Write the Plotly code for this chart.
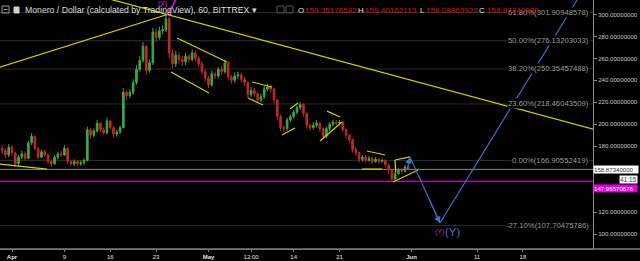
import plotly.graph_objects as go
import pandas as pd

# ---------------- data ----------------
BASE = pd.Timestamp("2018-04-01")
CANDLE_START = "2018-03-30 12:00"
OPEN0 = 178
closes = [176, 172, 179, 174, 164, 170, 173, 169, 183, 189, 178, 170, 175, 172, 166, 164, 170, 173, 172, 178,
          166, 164, 166, 164, 165, 167, 195, 190, 194, 201, 195, 192, 203, 197, 191, 193, 197, 229, 226, 229,
          238, 250, 258, 271, 249, 256, 284, 279, 285, 286, 296, 265, 255, 263, 259, 257, 262, 259, 265, 260,
          255, 248, 242, 236, 246, 244, 250, 248, 256, 243, 240, 244, 245, 241, 238, 227, 231, 228, 222, 225,
          232, 234, 232, 222, 207, 197, 196, 204, 207, 211, 215, 218, 210, 199, 197, 199, 201, 196, 189, 196,
          200, 202, 201, 202, 195, 190, 186, 177, 174, 168, 170, 167, 169, 166, 168, 166, 167, 163, 158, 150,
          155, 158, 157, 161, 158.8734]
highs = [181, 178, 182, 181, 175, 172, 176, 175, 185, 192, 190, 179, 177, 177, 173, 168, 172, 175, 176, 181,
         179, 167, 168, 167, 167, 169, 198, 197, 196, 204, 202, 197, 206, 204, 198, 195, 199, 233, 231, 232,
         241, 254, 262, 275, 272, 259, 288, 287, 289, 290, 301, 298, 268, 267, 265, 262, 265, 264, 268, 267,
         262, 257, 250, 244, 249, 248, 252, 253, 259, 258, 245, 247, 248, 247, 243, 239, 234, 233, 229, 228,
         235, 237, 236, 233, 223, 209, 199, 206, 209, 213, 217, 220, 219, 211, 201, 202, 204, 202, 197, 198,
         202, 204, 204, 204, 203, 196, 191, 187, 179, 175, 172, 172, 171, 170, 170, 169, 169, 168, 164, 159,
         157, 160, 160, 163, 162]
lows = [173, 169, 170, 171, 161, 162, 168, 167, 168, 181, 176, 168, 169, 170, 164, 161, 163, 168, 170, 171,
        164, 162, 162, 162, 162, 163, 166, 187, 188, 192, 193, 190, 191, 195, 188, 189, 191, 196, 222, 224,
        227, 236, 248, 256, 245, 247, 254, 275, 277, 282, 284, 260, 251, 252, 255, 253, 254, 256, 257, 257,
        252, 245, 239, 233, 234, 241, 242, 245, 246, 240, 237, 238, 241, 238, 235, 224, 225, 225, 219, 220,
        223, 230, 229, 219, 204, 194, 193, 194, 202, 205, 209, 213, 207, 196, 194, 195, 197, 193, 186, 187,
        194, 198, 199, 199, 193, 187, 183, 174, 171, 165, 166, 165, 166, 164, 165, 164, 165, 161, 155, 148,
        149, 154, 155, 156, 158]

fib_pct = ["61.80%", "50.00%", "38.20%", "23.60%", "0.00%", "-27.10%"]
fib_val = [301.90948578, 276.13203033, 250.35457488, 218.46043509, 166.90552419, 107.70475786]

xtick_days = [0, 8, 15, 22, 30, 36.5, 43, 50, 61, 71, 78]
xtick_text = ["<b>Apr</b>", "9", "16", "23", "<b>May</b>", "12:00", "14", "21", "<b>Jun</b>", "11", "18"]
ytick_vals = [100, 120, 180, 200, 220, 240, 260, 280, 300]

LAST_PRICE = 158.8734
ALERT_PRICE = 147.96570676
COUNTDOWN = "41:15"
ohlc_labels = ["O", "H", "L", "C"]
ohlc_values = ["159.35176582", "159.46162113", "158.08869923", "158.87340000"]

# drawings: (day offsets from BASE, prices)
yellow_days = [[-2.0, 23.7], [14.0, 89.5], [-1.83, 5.34], [25.19, 32.82], [24.27, 30.08],
               [36.64, 39.69], [36.03, 38.32], [41.22, 43.21], [42.44, 43.66], [48.09, 50.08],
               [47.02, 50.38], [54.2, 56.95], [53.44, 56.49], [58.47, 60.76], [58.17, 61.98],
               [58.47, 58.6]]
yellow_prices = [[251.8, 300.0], [315.5, 194.3], [163.7, 159.2], [278.6, 256.7], [247.6, 228.5],
                 [238.5, 233.9], [223.9, 217.5], [190.2, 196.6], [213.9, 219.4], [212.0, 206.6],
                 [184.7, 202.0], [175.6, 172.0], [159.2, 159.2], [167.4, 170.2], [147.4, 158.3],
                 [167.4, 156.0]]
magenta_days = [23.7, 25.5]
magenta_prices = [300.0, 318.0]
blue_days = [60.3, 60.76, 65.34, 87.0]
blue_prices = [158.3, 170.2, 110.0, 320.3]

X_RANGE_DAYS = [-1.832, 88.70]
Y_RANGE = [86.33, 313.21]

# ---------------- figure ----------------
def d2t(d):
    return BASE + pd.Timedelta(days=d)

def d2s(d):
    return d2t(d).strftime("%Y-%m-%d %H:%M:%S")

times = pd.date_range(CANDLE_START, periods=len(closes), freq="12h")
opens = [OPEN0] + closes[:-1]

YELLOW = "#d2d200"
BLUE = "#3f72d0"
MAG = "#e000e0"
FONT = "Liberation Sans, Arial, sans-serif"

fig = go.Figure()
fig.add_trace(go.Candlestick(
    x=times, open=opens, high=highs, low=lows, close=closes,
    increasing=dict(line=dict(color="#3fa83f", width=1), fillcolor="#3fa83f"),
    decreasing=dict(line=dict(color="#c02828", width=1), fillcolor="#c02828"),
    whiskerwidth=0, showlegend=False, hoverinfo="skip"))

for dd, pp in zip(yellow_days, yellow_prices):
    fig.add_trace(go.Scatter(x=[d2t(v) for v in dd], y=pp, mode="lines",
                             line=dict(color=YELLOW, width=1.2), showlegend=False, hoverinfo="skip"))
fig.add_trace(go.Scatter(x=[d2t(v) for v in magenta_days], y=magenta_prices, mode="lines",
                         line=dict(color=MAG, width=1.5), showlegend=False, hoverinfo="skip"))
fig.add_trace(go.Scatter(x=[d2t(v) for v in blue_days], y=blue_prices, mode="lines",
                         line=dict(color=BLUE, width=1.1), showlegend=False, hoverinfo="skip"))

shapes = []
for v in fib_val:
    shapes.append(dict(type="line", xref="paper", x0=0, x1=1, yref="y", y0=v, y1=v,
                       line=dict(color="#2c2c2c", width=1), layer="below"))
shapes.append(dict(type="line", xref="paper", x0=0, x1=1, yref="y", y0=LAST_PRICE, y1=LAST_PRICE,
                   line=dict(color="#8a8a8a", width=1), layer="below"))
shapes.append(dict(type="line", xref="paper", x0=0, x1=1, yref="y", y0=ALERT_PRICE, y1=ALERT_PRICE,
                   line=dict(color=MAG, width=1), layer="below"))
# bottom axis line across full width
shapes.append(dict(type="line", xref="paper", x0=0, x1=640 / 593, yref="paper", y0=0, y1=0,
                   line=dict(color="#7a7a7a", width=1.5)))
# header icons
def px(x):
    return x / 593
def py(y):
    return 1 - y / 249
shapes.append(dict(type="rect", xref="paper", yref="paper", x0=px(2), x1=px(9), y0=py(13), y1=py(6),
                   line=dict(color="#9a9a9a", width=1)))
shapes.append(dict(type="line", xref="paper", yref="paper", x0=px(3.5), x1=px(7.5), y0=py(9.5), y1=py(9.5),
                   line=dict(color="#9a9a9a", width=1)))
shapes.append(dict(type="rect", xref="paper", yref="paper", x0=px(14), x1=px(19), y0=py(13), y1=py(7),
                   line=dict(color="#cfcfcf", width=1), fillcolor="#cfcfcf"))
for a in (277, 286):
    shapes.append(dict(type="rect", xref="paper", yref="paper", x0=px(a), x1=px(a + 7), y0=py(13), y1=py(6),
                       line=dict(color="#555", width=1)))

ann = []
for p, v in zip(fib_pct, fib_val):
    ann.append(dict(xref="paper", x=px(590), xanchor="right", yref="y", y=v, yanchor="middle",
                    text=f"{p}({v:.8f})", showarrow=False, bgcolor="#000", borderpad=0,
                    font=dict(family=FONT, size=7.7, color="#9c9c9c")))
ann.append(dict(xref="paper", x=px(23), xanchor="left", yref="paper", y=py(10), yanchor="middle",
                text="Monero / Dollar (calculated by TradingView), 60, BITTREX ▾", showarrow=False,
                font=dict(family=FONT, size=8.7, color="#dcdcdc")))
lab_x = [297, 357, 419, 478]
val_x = [304, 364, 425, 486]
for lx, vx, l, v in zip(lab_x, val_x, ohlc_labels, ohlc_values):
    ann.append(dict(xref="paper", x=px(lx), xanchor="left", yref="paper", y=py(10), yanchor="middle",
                    text=l, showarrow=False, borderpad=0, font=dict(family=FONT, size=7.8, color="#e6e6e6")))
    ann.append(dict(xref="paper", x=px(vx), xanchor="left", yref="paper", y=py(10), yanchor="middle",
                    text=v, showarrow=False, borderpad=0, font=dict(family=FONT, size=8.1, color="#d01818")))
# wave labels
ann.append(dict(x=d2s(23.05), y=309.5, text="(X)", showarrow=False,
                font=dict(family=FONT, size=7, color="#c030c0")))
ann.append(dict(x=d2s(65.27), y=102.1, text="(Y)", showarrow=False,
                font=dict(family=FONT, size=7, color="#a030b0")))
ann.append(dict(x=d2s(67.25), y=102.1, text="(Y)", showarrow=False,
                font=dict(family=FONT, size=11.5, color=BLUE)))
# arrow heads on the projection
for i in (1, 2):
    ann.append(dict(x=d2s(blue_days[i]), y=blue_prices[i], ax=d2s(blue_days[i - 1] + (blue_days[i] - blue_days[i - 1]) * 0.6),
                    ay=blue_prices[i - 1] + (blue_prices[i] - blue_prices[i - 1]) * 0.6,
                    axref="x", ayref="y", xref="x", yref="y", text="", showarrow=True,
                    arrowhead=2, arrowsize=1.2, arrowwidth=1.1, arrowcolor=BLUE, standoff=0))
# price-axis tags
ann.append(dict(xref="paper", x=1, xanchor="left", yref="y", y=LAST_PRICE, yanchor="middle",
                text=f"{LAST_PRICE:.8f}", showarrow=False, bgcolor="#ffffff", width=44, height=7,
                borderpad=0, align="left", font=dict(family=FONT, size=6.1, color="#333")))
ann.append(dict(xref="paper", x=px(619), xanchor="left", yref="paper", y=py(179), yanchor="middle",
                text=COUNTDOWN, showarrow=False, bgcolor="#ffffff", width=17, height=7,
                borderpad=0, font=dict(family=FONT, size=6.3, color="#333")))
ann.append(dict(xref="paper", x=1, xanchor="left", yref="paper", y=py(188), yanchor="middle",
                text=f"{ALERT_PRICE:.8f}", showarrow=False, bgcolor=MAG, width=43, height=7,
                borderpad=0, align="left", font=dict(family=FONT, size=6.1, color="#ffffff")))

fig.update_layout(
    width=640, height=261, margin=dict(l=0, r=47, t=0, b=12),
    paper_bgcolor="#000", plot_bgcolor="#000",
    shapes=shapes, annotations=ann, showlegend=False,
    xaxis=dict(type="date", range=[d2t(X_RANGE_DAYS[0]), d2t(X_RANGE_DAYS[1])],
               rangeslider=dict(visible=False), showgrid=False, zeroline=False,
               showline=True, linecolor="#7a7a7a", linewidth=1,
               tickvals=[d2t(v) for v in xtick_days], ticktext=xtick_text,
               ticks="outside", ticklen=2, tickcolor="#7a7a7a",
               tickfont=dict(family=FONT, size=6, color="#e0e0e0")),
    yaxis=dict(side="right", range=Y_RANGE, showgrid=False, zeroline=False,
               showline=True, linecolor="#8a8a8a", linewidth=1,
               tickvals=ytick_vals, tickformat=".8f", ticks="outside", ticklen=3, tickcolor="#8a8a8a",
               tickfont=dict(family=FONT, size=6.1, color="#c8c8c8")),
)
fig.write_html("out.html")
